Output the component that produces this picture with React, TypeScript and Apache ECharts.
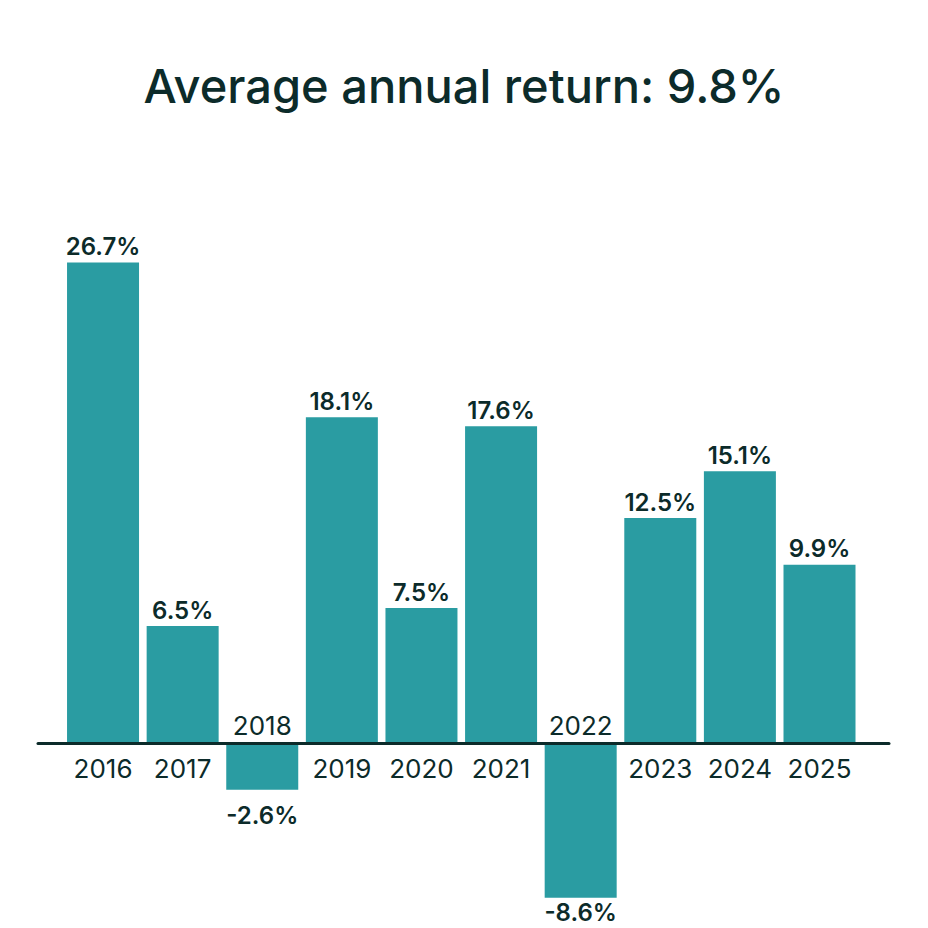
import React, { useEffect, useRef } from "react";
import * as echarts from "echarts";

const years = ["2016", "2017", "2018", "2019", "2020", "2021", "2022", "2023", "2024", "2025"];
const returns = [26.7, 6.5, -2.6, 18.1, 7.5, 17.6, -8.6, 12.5, 15.1, 9.9];
const titleText = "Average annual return: 9.8%";

const BAR = "#2a9ca2";
const DARK = "#0c2b2a";
const FONT = "Inter, 'Noto Sans', sans-serif";

export default function App() {
  const ref = useRef<HTMLDivElement>(null);
  useEffect(() => {
    if (!ref.current) return;
    const chart = echarts.init(ref.current, null, { renderer: "svg" });
    const barData = returns.map((v, i) => ({
      value: [i, v],
      label: {
        position: v >= 0 ? "top" : "bottom",
        distance: v >= 0 ? 4 : v < -5 ? 3 : 14,
      },
    }));
    const yearData = years.map((y, i) => ({
      value: [i, 0],
      name: y,
      label: {
        position: returns[i] >= 0 ? "bottom" : "top",
        distance: returns[i] >= 0 ? 12 : 4,
      },
    }));
    chart.setOption({
      animation: false,
      title: {
        text: titleText,
        left: "center",
        top: 57,
        textStyle: { fontFamily: FONT, fontSize: 47, fontWeight: 500, color: DARK },
      },
      grid: { left: 38, right: 39, top: 239, bottom: 5, containLabel: false },
      xAxis: {
        type: "value",
        min: -0.817,
        max: 9.873,
        axisLine: { show: true, onZero: true, lineStyle: { color: DARK, width: 3 } },
        axisTick: { show: false },
        axisLabel: { show: false },
        splitLine: { show: false },
        z: 5,
      },
      yAxis: {
        type: "value",
        min: -10,
        max: 28,
        show: false,
        splitLine: { show: false },
      },
      series: [
        {
          type: "bar",
          barWidth: 72,
          data: barData,
          itemStyle: { color: BAR },
          label: {
            show: true,
            fontFamily: FONT,
            fontSize: 24,
            fontWeight: 600,
            color: DARK,
            formatter: (p: any) => p.value[1] + "%",
          },
        },
        {
          type: "scatter",
          symbolSize: 1,
          itemStyle: { color: "transparent" },
          data: yearData,
          label: {
            show: true,
            fontFamily: FONT,
            fontSize: 26,
            fontWeight: 400,
            color: DARK,
            opacity: 1,
            formatter: (p: any) => p.name,
          },
          emphasis: { disabled: true },
          z: 6,
        },
      ],
    });
    return () => chart.dispose();
  }, []);
  return (
    <div
      ref={ref}
      style={{ position: "fixed", left: 0, top: 0, width: 928, height: 928, background: "#fff" }}
    />
  );
}
